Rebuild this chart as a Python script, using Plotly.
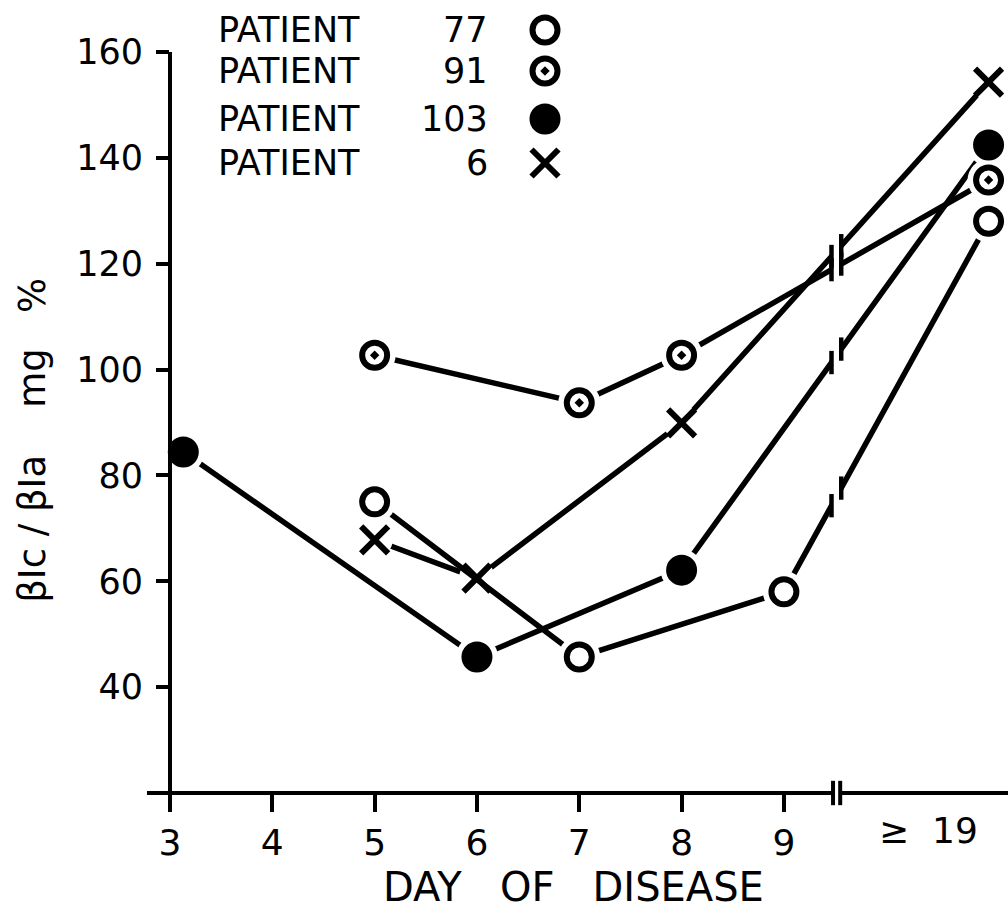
import numpy as np
import plotly.graph_objects as go

# Day positions on the x axis; the "≥ 19" group sits at position 11 after the axis break
day_ticks = [3, 4, 5, 6, 7, 8, 9]
late_pos = 11
late_label = "≥  19"

# βIc / βIa ratio (mg %) per patient
days_77 = [5, 7, 9, late_pos]
vals_77 = [75, 45.7, 58, 128]

days_91 = [5, 7, 8, late_pos]
vals_91 = [102.7, 93.7, 102.7, 135.8]

days_103 = [3.13, 6, 8, late_pos]
vals_103 = [84.4, 45.7, 62.1, 142.4]

days_6 = [5, 6, 8, late_pos]
vals_6 = [67.8, 60.6, 89.9, 154.3]

y_ticks = [40, 60, 80, 100, 120, 140, 160]

patients = [
    # (label, days, values, symbol, size, outline width, halo size)
    ("6", days_6, vals_6, "x-thin-open", 27, 6, 36),
    ("103", days_103, vals_103, "circle", 29, 2, 42),
    ("91", days_91, vals_91, "circle-open-dot", 25, 6, 42),
    ("77", days_77, vals_77, "circle-open", 25, 6, 42),
]
legend_order = ["77", "91", "103", "6"]

X0, X1 = 3, 11.19
Y0, Y1 = 20, 169.8
BREAK_L, BREAK_R = 9.465, 9.56
FONT = "DejaVu Sans"


def xp(x):
    return (x - X0) / (X1 - X0)


def yp(y):
    return (y - Y0) / (Y1 - Y0)


def px_to_x(p):
    return X0 + (p - 170) * (X1 - X0) / 838


fig = go.Figure()

# connecting lines, each followed by a white halo so lines stop short of the symbols
for name, d, v, sym, size, lw, halo in patients:
    fig.add_trace(go.Scatter(x=d, y=v, mode="lines",
                             line=dict(color="black", width=5.5),
                             hoverinfo="skip"))
    fig.add_trace(go.Scatter(x=d, y=v, mode="markers",
                             marker=dict(symbol="circle", size=halo, color="white",
                                         line=dict(width=0)),
                             hoverinfo="skip"))

# the symbols themselves
for name, d, v, sym, size, lw, halo in patients:
    fig.add_trace(go.Scatter(x=d, y=v, mode="markers", name=name,
                             marker=dict(symbol=sym, size=size, color="black",
                                         line=dict(color="black", width=lw)),
                             cliponaxis=False))

# legend block: text plus symbol
legend_px_rows = [30, 71, 119, 163]
legend_y = [Y0 + (793 - p) * (Y1 - Y0) / 793 for p in legend_px_rows]
legend_x = px_to_x(545)
by_name = {p[0]: p for p in patients}
for name, ly in zip(legend_order, legend_y):
    _, _, _, sym, size, lw, _ = by_name[name]
    fig.add_trace(go.Scatter(x=[legend_x], y=[ly], mode="markers",
                             marker=dict(symbol=sym, size=size, color="black",
                                         line=dict(color="black", width=lw)),
                             cliponaxis=False, hoverinfo="skip"))
    fig.add_annotation(x=xp(px_to_x(216)), y=yp(ly),
                       xref="paper", yref="paper", text="PATIENT",
                       xanchor="left", yanchor="middle", showarrow=False,
                       font=dict(family=FONT, size=35, color="black"))
    fig.add_annotation(x=xp(px_to_x(490)), y=yp(ly),
                       xref="paper", yref="paper", text=name,
                       xanchor="right", yanchor="middle", showarrow=False,
                       font=dict(family=FONT, size=35, color="black"))

shapes = []
# gap in the data lines at the axis break
shapes.append(dict(type="rect", xref="x", yref="y", x0=BREAK_L, x1=BREAK_R,
                   y0=22, y1=165, fillcolor="white", line=dict(width=0),
                   layer="above"))
# short bars on each line at both sides of the break
for name, d, v, sym, size, lw, halo in patients:
    for bx in (BREAK_L, BREAK_R):
        by = float(np.interp(bx, d, v))
        shapes.append(dict(type="line", xref="x", yref="y", x0=bx, x1=bx,
                           y0=by - 2.2, y1=by + 2.2,
                           line=dict(color="black", width=4.5), layer="above"))

# axes drawn as lines: y axis from just below the x axis up to 160
ax_w = 4
shapes.append(dict(type="line", xref="paper", yref="paper", x0=0, x1=0,
                   y0=yp(16.6), y1=yp(160), line=dict(color="black", width=ax_w)))
# x axis in two pieces with a break
shapes.append(dict(type="line", xref="paper", yref="paper", x0=xp(2.775), x1=xp(9.48),
                   y0=0, y1=0, line=dict(color="black", width=ax_w)))
shapes.append(dict(type="line", xref="paper", yref="paper", x0=xp(9.55), x1=1.0,
                   y0=0, y1=0, line=dict(color="black", width=ax_w)))
for bx in (9.48, 9.55):
    shapes.append(dict(type="line", xref="paper", yref="paper", x0=xp(bx), x1=xp(bx),
                       y0=yp(17.7), y1=yp(22.3), line=dict(color="black", width=ax_w)))

fig.update_layout(shapes=shapes)

fig.add_annotation(x=px_to_x(928), y=-0.047, xref="x", yref="paper",
                   text=late_label, showarrow=False, xanchor="center", yanchor="middle",
                   font=dict(family=FONT, size=36, color="black"))
fig.add_annotation(x=xp(px_to_x(573)), y=-0.1185,
                   xref="paper", yref="paper", text="DAY   OF   DISEASE",
                   showarrow=False, xanchor="center", yanchor="middle",
                   font=dict(family=FONT, size=40, color="black"))
fig.add_annotation(x=-0.165, y=0.445, xref="paper", yref="paper",
                   text="βIc / βIa    mg   %", textangle=-90, showarrow=False,
                   xanchor="center", yanchor="middle",
                   font=dict(family=FONT, size=37, color="black"))

fig.update_layout(
    width=1008, height=913,
    margin=dict(l=170, r=0, t=0, b=120),
    plot_bgcolor="white", paper_bgcolor="white",
    showlegend=False,
    font=dict(family=FONT, color="black"),
    xaxis=dict(range=[X0, X1], tickvals=day_ticks,
               ticktext=[str(t) for t in day_ticks],
               ticks="outside", ticklen=18, tickwidth=4, tickcolor="black",
               showline=False, showgrid=False, zeroline=False,
               tickfont=dict(family=FONT, size=36, color="black")),
    yaxis=dict(range=[Y0, Y1], tickvals=y_ticks,
               ticks="outside", ticklen=13, tickwidth=4, tickcolor="black",
               showline=False, showgrid=False, zeroline=False,
               ticklabelstandoff=6,
               tickfont=dict(family=FONT, size=35, color="black")),
)

fig.write_html("out.html")
